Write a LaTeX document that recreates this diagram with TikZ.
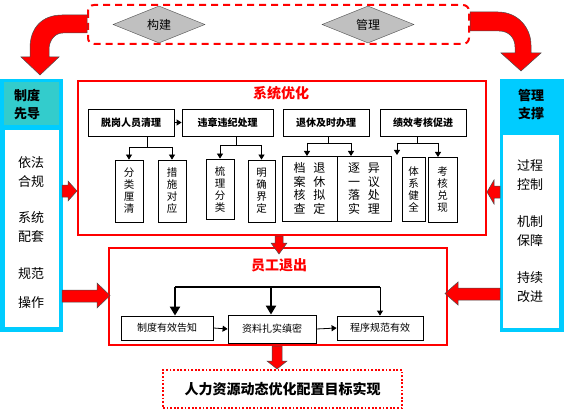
\documentclass[tikz,border=0pt]{standalone}
\usepackage{fontspec}
\newfontfamily\cjk{Noto Sans CJK SC}
\usetikzlibrary{shapes.geometric,arrows.meta}
\definecolor{cyanb}{HTML}{00CCFF}
\definecolor{tealh}{HTML}{33CCCC}
\definecolor{dgray}{HTML}{C0C0C0}
\tikzset{
  lvl/.style={draw, line width=0.8pt, inner sep=0pt, font=\cjk\bfseries\fontsize{10}{12}\selectfont},
  subbox/.style={draw, line width=0.8pt, inner sep=0pt, align=center, font=\cjk\fontsize{10.5}{12}\selectfont},
  bigbox/.style={draw, line width=0.8pt, inner sep=0pt, align=center, font=\cjk\fontsize{12}{13.5}\selectfont},
  botbox/.style={draw, line width=0.8pt, inner sep=0pt, font=\cjk\fontsize{10}{12}\selectfont},
  conn/.style={line width=0.8pt},
  tipline/.style={-{Triangle[length=5pt,width=6pt]}, line width=0.8pt},
  thicktip/.style={-{Triangle[length=9pt,width=10pt]}, line width=2pt},
  redframe/.style={draw=red, line width=2pt},
  blockarrow/.style={fill=red, draw=black!70, line width=0.5pt},
  dia/.style={diamond, draw=black!70, fill=dgray, inner sep=0pt, minimum width=92pt, minimum height=37pt, font=\cjk\fontsize{12}{14}\selectfont},
  ptext/.style={align=center, font=\cjk\fontsize{13}{19}\selectfont},
  phead/.style={align=center, font=\cjk\bfseries\fontsize{13}{18}\selectfont},
  redtitle/.style={text=red, font=\cjk\bfseries\fontsize{14}{16}\selectfont}
}
\begin{document}
\begin{tikzpicture}[x=1pt,y=-1pt]
\useasboundingbox (0,0) rectangle (564,414);
\fill[white] (0,0) rectangle (564,414);

% top dashed frame with diamonds
\draw[red, line width=2pt, dash pattern=on 7pt off 5pt, rounded corners=6pt] (88,5) rectangle (469,44);
\node[dia] (gj) at (159,24.5) {构建};
\node[dia] (gl) at (368,24.5) {管理};

% curved red arrows
\path[blockarrow] (87,15) -- (62,15) .. controls (42,15) and (30,28) .. (30,48) -- (30,57) -- (21,57) -- (40,75) -- (59,57) -- (49,57) -- (49,50) .. controls (49,40) and (55,33) .. (63,33) -- (87,33) -- cycle;
\path[blockarrow] (470,12) -- (498,12) .. controls (518,12) and (531,28) .. (531,45) -- (531,53) -- (541,53) -- (521,71) -- (501,53) -- (515,53) -- (515,47) .. controls (515,38) and (509,31) .. (499,31) -- (470,31) -- cycle;

% left panel
\node[fill=cyanb, minimum width=63pt, minimum height=253pt, inner sep=0pt] (L) at (31.5,205.5) {};
\node[fill=tealh, minimum width=55pt, minimum height=43pt, inner sep=0pt] (Lh) at (31.5,103.5) {};
\node[fill=white, minimum width=54pt, minimum height=197pt, inner sep=0pt] (Lb) at (32,228.5) {};
\node[phead] (Lt) at (27,105) {制度\\先导};
\node[ptext] (L1) at (31,172.5) {依法\\合规};
\node[ptext] (L2) at (31,227.5) {系统\\配套};
\node[ptext] (L3) at (31,274) {规范};
\node[ptext] (L4) at (31,303) {操作};

% right panel
\node[fill=cyanb, minimum width=64pt, minimum height=253pt, inner sep=0pt] (R) at (532,205.5) {};
\node[fill=white, minimum width=56pt, minimum height=193pt, inner sep=0pt] (Rb) at (531,231.5) {};
\node[phead] (Rt) at (531,105) {管理\\支撑};
\node[ptext] (R1) at (530,175) {过程\\控制};
\node[ptext] (R2) at (530,231.5) {机制\\保障};
\node[ptext] (R3) at (530,287.5) {持续\\改进};

% system optimisation frame
\node[redframe, minimum width=408.5pt, minimum height=154pt, inner sep=0pt] (S) at (282,158) {};
\node[redtitle] (St) at (281,93) {系统优化};

\node[lvl, minimum width=86pt, minimum height=27pt] (A) at (131,122.5) {脱岗人员清理};
\node[lvl, minimum width=91pt, minimum height=27pt] (B) at (227.5,122.5) {违章违纪处理};
\node[lvl, minimum width=86pt, minimum height=27pt] (C) at (326,122.5) {退休及时办理};
\node[lvl, minimum width=86pt, minimum height=27pt] (D) at (423,122.5) {绩效考核促进};
\draw[tipline] (A.east) -- (B.west);

\node[subbox, minimum width=28pt, minimum height=62pt] (a1) at (129,191) {分\\类\\厘\\清};
\node[subbox, minimum width=28pt, minimum height=62pt] (a2) at (172,191) {措\\施\\对\\应};
\node[subbox, minimum width=28pt, minimum height=60pt] (b1) at (220,189) {梳\\理\\分\\类};
\node[subbox, minimum width=27pt, minimum height=62pt] (b2) at (261.5,191) {明\\确\\界\\定};
\node[bigbox, minimum width=55pt, minimum height=65pt] (c1) at (309.5,188.5) {档\hspace{8pt}退\\案\hspace{8pt}休\\核\hspace{8pt}拟\\查\hspace{8pt}定};
\node[bigbox, minimum width=54pt, minimum height=65pt] (c2) at (364,188.5) {逐\hspace{8pt}异\\一\hspace{8pt}议\\落\hspace{8pt}处\\实\hspace{8pt}理};
\node[subbox, minimum width=23pt, minimum height=64pt] (d1) at (413.5,189) {体\\系\\健\\全};
\node[subbox, minimum width=29pt, minimum height=65pt] (d2) at (442.5,189.5) {考\\核\\兑\\现};

% connectors level 1 -> sub
\coordinate (jA) at (147,147);
\draw[conn] (A.south -| jA) -- (jA);
\draw[conn] (a1.north |- jA) -- (a2.north |- jA);
\draw[tipline] (a1.north |- jA) -- (a1.north);
\draw[tipline] (a2.north |- jA) -- (a2.north);

\coordinate (jB) at (236,145);
\draw[conn] (B.south -| jB) -- (jB);
\draw[conn] (b1.north |- jB) -- (b2.north |- jB);
\draw[tipline] (b1.north |- jB) -- (b1.north);
\draw[tipline] (b2.north |- jB) -- (b2.north);

\coordinate (jC) at (328,143);
\coordinate (c1t) at (307,156);
\coordinate (c2t) at (351,156);
\draw[conn] (C.south -| jC) -- (jC);
\draw[conn] (c1t |- jC) -- (c2t |- jC);
\draw[tipline] (c1t |- jC) -- (c1t);
\draw[tipline] (c2t |- jC) -- (c2t);

\coordinate (jD) at (417,143);
\coordinate (d1t) at (397,155);
\coordinate (d2t) at (438,157);
\draw[conn] (D.south -| jD) -- (jD);
\draw[conn] (d1t |- jD) -- (d2t |- jD);
\draw[tipline] (d1t |- jD) -- (d1t);
\draw[tipline] (d2t |- jD) -- (d2t);

% employee exit frame
\node[redframe, minimum width=338pt, minimum height=97pt, inner sep=0pt] (E) at (278,296.5) {};
\node[redtitle] (Et) at (279,265) {员工退出};
\node[botbox, minimum width=92pt, minimum height=24pt] (e1) at (167,328) {制度有效告知};
\node[botbox, minimum width=88pt, minimum height=28pt] (e2) at (272,329) {资料扎实缜密};
\node[botbox, minimum width=86pt, minimum height=24pt] (e3) at (380,328) {程序规范有效};
\coordinate (jL) at (175,287);
\coordinate (jM) at (271,287);
\coordinate (jR) at (380,287);
\draw[line width=2pt] (jL) -- (jR);
\draw[thicktip] (jL) -- (jL |- e1.north);
\draw[thicktip] (jM) -- (jM |- e2.north);
\draw[tipline] (jR) -- (e3.north);
\draw[tipline] (e1.east) -- (e2.west);
\draw[tipline] (e2.east) -- (e3.west);

% goal
\node[draw=red, line width=1.8pt, dash pattern=on 1.8pt off 1.8pt, minimum width=239pt, minimum height=38pt, inner sep=0pt, font=\cjk\bfseries\fontsize{14}{16}\selectfont] (G) at (282.5,389) {人力资源动态优化配置目标实现};

% red block arrows
\path[blockarrow] (275,236) -- (283,236) -- (283,243) -- (287,243) -- (279,254) -- (271,243) -- (275,243) -- cycle;
\path[blockarrow] (272,346) -- (282,346) -- (282,361) -- (287,361) -- (277,369) -- (267,361) -- (272,361) -- cycle;
\path[blockarrow] (62,185) -- (68,185) -- (68,181) -- (77,191) -- (68,201) -- (68,197) -- (62,197) -- cycle;
\path[blockarrow] (500,186) -- (494,186) -- (494,180) -- (487,192) -- (494,204) -- (494,198) -- (500,198) -- cycle;
\path[blockarrow] (62,290) -- (97,290) -- (97,283) -- (110,295.5) -- (97,308) -- (97,302) -- (62,302) -- cycle;
\path[blockarrow] (500,288) -- (458,288) -- (458,282) -- (445,293.5) -- (458,305) -- (458,300) -- (500,300) -- cycle;
\end{tikzpicture}
\end{document}
